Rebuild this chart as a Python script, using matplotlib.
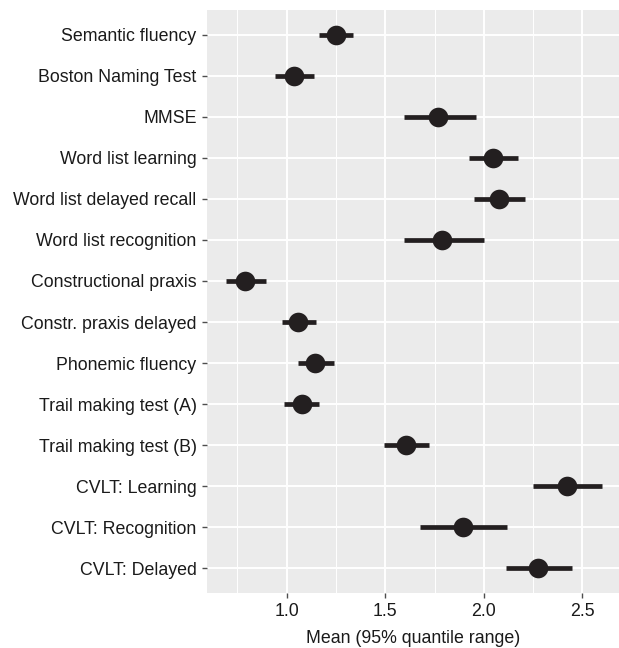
import numpy as np
import matplotlib.pyplot as plt

plt.rcParams['font.family'] = ['Liberation Sans', 'DejaVu Sans']

tests = ["Semantic fluency", "Boston Naming Test", "MMSE", "Word list learning",
         "Word list delayed recall", "Word list recognition", "Constructional praxis",
         "Constr. praxis delayed", "Phonemic fluency", "Trail making test (A)",
         "Trail making test (B)", "CVLT: Learning", "CVLT: Recognition", "CVLT: Delayed"]
means = [1.249, 1.038, 1.769, 2.047, 2.079, 1.786, 0.789,
         1.059, 1.142, 1.076, 1.605, 2.419, 1.892, 2.275]
lower = [1.163, 0.941, 1.593, 1.927, 1.952, 1.593, 0.693,
         0.976, 1.057, 0.986, 1.494, 2.251, 1.674, 2.114]
upper = [1.339, 1.137, 1.958, 2.175, 2.209, 1.999, 0.895,
         1.148, 1.239, 1.167, 1.720, 2.600, 2.118, 2.447]
xticks = [1.0, 1.5, 2.0, 2.5]

fig = plt.figure(figsize=(6.19, 6.48), dpi=100)
ax = fig.add_axes([207/619, 1 - 593/648, 412/619, 583/648])
ax.set_facecolor('#EBEBEB')

ypos = np.arange(len(tests))
ax.hlines(ypos, lower, upper, color='#231F20', linewidth=3.4, zorder=3)
ax.scatter(means, ypos, s=200, color='#231F20', zorder=4, linewidths=0)

ax.set_xlim(0.597, 2.685)
ax.set_ylim(len(tests) - 1 + 0.6, -0.6)
ax.set_yticks(ypos)
ax.set_yticklabels(tests)
ax.set_xticks(xticks)
ax.set_xticklabels([f"{v:.1f}" for v in xticks])
ax.set_xticks([0.75, 1.25, 1.75, 2.25], minor=True)

ax.grid(which='major', color='white', linewidth=1.4, zorder=0)
ax.grid(which='minor', axis='x', color='white', linewidth=0.7, zorder=0)
ax.set_axisbelow(True)
for s in ax.spines.values():
    s.set_visible(False)

ax.tick_params(axis='both', which='major', length=3.5, width=1.0, color='#4D4D4D',
               labelsize=12.8, labelcolor='#1A1A1A', pad=4)
ax.tick_params(axis='x', which='minor', length=0)
ax.set_xlabel("Mean (95% quantile range)", fontsize=12.8, color='#1A1A1A', labelpad=7)

fig.savefig("out.png", dpi=100)
